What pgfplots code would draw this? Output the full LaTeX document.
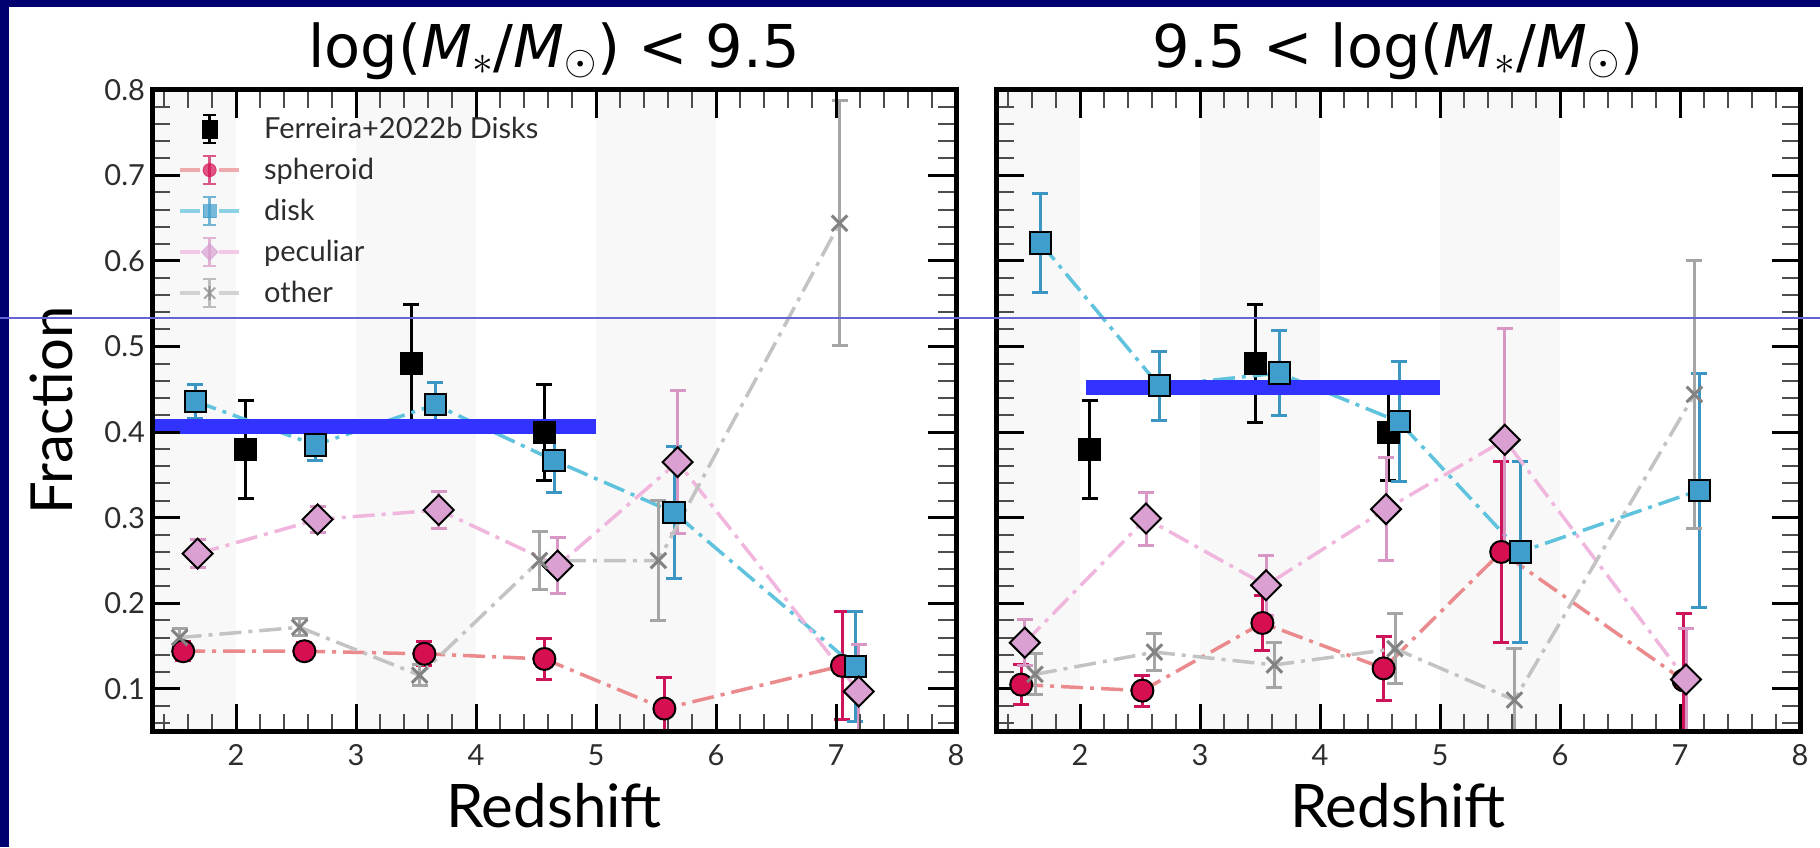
\documentclass[border=0pt]{standalone}
\usepackage{fontspec}
\setmainfont{Lato}
\newfontfamily\dejavu{DejaVu Sans}
\usepackage{pgfplots}
\usepackage{pgfplotstable}
\pgfplotsset{compat=1.18}

\definecolor{navyb}{RGB}{0,0,112}
\definecolor{spho}{RGB}{214,16,80}
\definecolor{sphe}{RGB}{205,20,90}
\definecolor{sphl}{RGB}{234,138,140}
\definecolor{diskf}{RGB}{64,158,204}
\definecolor{diske}{RGB}{60,150,195}
\definecolor{diskl}{RGB}{95,195,222}
\definecolor{pecf}{RGB}{218,160,210}
\definecolor{pece}{RGB}{215,150,195}
\definecolor{pecl}{RGB}{240,182,222}
\definecolor{othf}{RGB}{130,130,130}
\definecolor{othe}{RGB}{165,165,165}
\definecolor{othl}{RGB}{195,195,195}
\definecolor{hbar}{RGB}{51,51,255}
\definecolor{thinl}{RGB}{100,100,210}
\definecolor{band}{RGB}{248,248,248}
\definecolor{txt}{RGB}{45,45,45}

% ---------------- data ----------------
\pgfplotstableread{
x y e
2.08 0.380 0.057
3.46 0.480 0.069
4.57 0.400 0.056
}\ferr

\pgfplotstableread{
x y e
1.56 0.144 0.011
2.57 0.144 0.010
3.57 0.141 0.014
4.57 0.135 0.024
5.57 0.077 0.036
7.05 0.127 0.063
}\sphL
\pgfplotstableread{
x y e
1.66 0.436 0.020
2.66 0.385 0.018
3.66 0.432 0.026
4.65 0.367 0.038
5.65 0.306 0.077
7.16 0.126 0.064
}\diskL
\pgfplotstableread{
x y e
1.68 0.258 0.016
2.68 0.298 0.015
3.69 0.309 0.022
4.68 0.244 0.033
5.68 0.365 0.084
7.19 0.097 0.055
}\pecL
\pgfplotstableread{
x y e
1.53 0.160 0.010
2.53 0.172 0.010
3.53 0.116 0.012
4.53 0.250 0.034
5.52 0.250 0.070
7.03 0.644 0.143
}\othL

\pgfplotstableread{
x y e
1.51 0.105 0.023
2.52 0.098 0.018
3.52 0.177 0.032
4.53 0.124 0.037
5.51 0.260 0.106
7.03 0.110 0.078
}\sphH
\pgfplotstableread{
x y e
1.67 0.621 0.058
2.66 0.454 0.040
3.66 0.469 0.050
4.66 0.412 0.070
5.67 0.260 0.106
7.16 0.332 0.137
}\diskH
\pgfplotstableread{
x y e
1.54 0.154 0.027
2.55 0.299 0.031
3.55 0.221 0.035
4.55 0.310 0.060
5.54 0.391 0.130
7.05 0.111 0.060
}\pecH
\pgfplotstableread{
x y e
1.625 0.117 0.024
2.62 0.143 0.022
3.62 0.128 0.026
4.625 0.147 0.041
5.62 0.087 0.060
7.12 0.444 0.157
}\othH

% ---------------- legend helpers ----------------
\newcommand\LegLine[1]{\draw[#1, line width=1.75pt] (0pt,0pt) -- (10pt,0pt) (19.5pt,0pt) -- (29.5pt,0pt);}
\newcommand\LegErr[1]{\draw[#1, line width=1.2pt] (14.75pt,-7pt) -- (14.75pt,7pt) (11.5pt,7pt) -- (18pt,7pt) (11.5pt,-7pt) -- (18pt,-7pt);}
\newcommand\LegBox{\path[draw=none,fill=none] (0pt,0pt) -- (42pt,0pt);}
\newcommand\Mstar{\textit{M}\textsubscript{$\ast$}/\textit{M}\textsubscript{$\odot$}}

\pgfplotsset{
  panel/.style={
    width=402pt, height=321pt, scale only axis,
    xmin=1.3, xmax=8, ymin=0.05, ymax=0.8,
    axis on top, clip=true,
    axis line style={line width=2.5pt},
    xtick={2,3,4,5,6,7,8},
    ytick={0.1,0.2,0.3,0.4,0.5,0.6,0.7,0.8},
    minor xtick={1.4,1.6,...,8},
    minor ytick={0.06,0.08,...,0.8},
    major tick length=14pt, minor tick length=9pt,
    every major tick/.append style={line width=1.5pt, black},
    every minor tick/.append style={line width=1pt, black!70},
    tick label style={font=\fontsize{14.5}{16}\selectfont, text=txt},
    /pgf/number format/assume math mode=true,
    yticklabel style={/pgf/number format/.cd, fixed, fixed zerofill, precision=1},
    xticklabel style={yshift=-3pt},
    title style={font=\dejavu\fontsize{29.5}{33}\selectfont, text=black, yshift=-4.5pt},
    xlabel style={at={([yshift=-48pt]axis description cs:0.5,0)}, anchor=base, font=\fontsize{30}{33}\selectfont, text=black},
    ylabel style={at={([xshift=-40pt]axis description cs:0,0.5)}, anchor=base, font=\fontsize{29}{32}\selectfont, text=black},
  },
  serline/.style={line width=1.75pt, dash pattern=on 11pt off 3.5pt on 2pt off 3.5pt, forget plot},
  sermark/.style n args={5}{only marks, forget plot, mark=#1, mark size=#2,
    mark options={fill=#3, draw=black, line width=1pt, solid, #5},
    error bars/.cd, y dir=both, y explicit,
    error bar style={#4, line width=1.5pt, solid},
    error mark options={#4, rotate=90, line width=1.5pt, mark size=4pt, solid}},
}

\newcommand\band[2]{\addplot[fill=band, draw=none, forget plot] coordinates {(#1,0.05) (#2,0.05) (#2,0.8) (#1,0.8)} -- cycle;}

\begin{document}
\begin{tikzpicture}
\fill[white] (0,0) rectangle (910pt,423.5pt);
\fill[navyb] (0,0) rectangle (4.5pt,423.5pt);
\fill[navyb] (0,420pt) rectangle (910pt,423.5pt);
\path[use as bounding box] (0,0) rectangle (910pt,423.5pt);

% ================= left panel =================
\begin{axis}[panel, at={(76pt,57.65pt)}, anchor=south west,
  title={log(\Mstar)\hspace{0.3em}<\hspace{0.3em}9.5},
  xlabel={Redshift}, ylabel={Fraction},
  legend cell align=left,
  legend style={at={(axis description cs:0,1)}, anchor=north west, xshift=13pt, yshift=-11.9pt,
    draw=none, fill=none, inner sep=0pt, row sep=5.3pt,
    font=\fontsize{14.5}{16}\selectfont, nodes={inner sep=0pt, text=txt, xshift=18pt}},
]
\band{1.3}{2}
\band{3}{4}
\band{5}{6}

\addlegendimage{legend image code/.code={\LegBox \LegErr{black} \fill[black] (11pt,-4.5pt) rectangle (18.5pt,4.5pt);}}
\addlegendentry{Ferreira+2022b Disks}
\addlegendimage{legend image code/.code={\LegBox \begin{scope}[opacity=0.7]\LegLine{sphl}\LegErr{sphe}\fill[spho] (14.75pt,0pt) circle (3.3pt);\end{scope}}}
\addlegendentry{spheroid}
\addlegendimage{legend image code/.code={\LegBox \begin{scope}[opacity=0.7]\LegLine{diskl}\LegErr{diske}\fill[diskf] (11.5pt,-3.3pt) rectangle (18pt,3.3pt);\end{scope}}}
\addlegendentry{disk}
\addlegendimage{legend image code/.code={\LegBox \begin{scope}[opacity=0.7]\LegLine{pecl}\LegErr{pece}\fill[pecf] (14.75pt,4.2pt) -- (18.95pt,0pt) -- (14.75pt,-4.2pt) -- (10.55pt,0pt) -- cycle;\end{scope}}}
\addlegendentry{peculiar}
\addlegendimage{legend image code/.code={\LegBox \begin{scope}[opacity=0.7]\LegLine{othl}\LegErr{othe}\draw[othf, line width=1pt] (12pt,-2.75pt) -- (17.5pt,2.75pt) (12pt,2.75pt) -- (17.5pt,-2.75pt) (14.75pt,-3.5pt) -- (14.75pt,3.5pt);\end{scope}}}
\addlegendentry{other}

\addplot[sermark={square*}{5.3pt}{black}{black}{}] table[x=x,y=y,y error=e] {\ferr};

\addplot[sphl, serline] table[x=x,y=y] {\sphL};
\addplot[sermark={*}{5.5pt}{spho}{sphe}{}] table[x=x,y=y,y error=e] {\sphL};
\addplot[diskl, serline] table[x=x,y=y] {\diskL};
\addplot[sermark={square*}{5.3pt}{diskf}{diske}{}] table[x=x,y=y,y error=e] {\diskL};
\addplot[pecl, serline] table[x=x,y=y] {\pecL};
\addplot[sermark={square*}{5.3pt}{pecf}{pece}{rotate=45}] table[x=x,y=y,y error=e] {\pecL};
\addplot[othl, serline] table[x=x,y=y] {\othL};
\addplot[sermark={x}{5.5pt}{othf}{othe}{draw=othf, line width=1.5pt}] table[x=x,y=y,y error=e] {\othL};

\addplot[hbar, line width=7.5pt, forget plot] coordinates {(1.3,0.406) (5.0,0.406)};
\end{axis}

% ================= right panel =================
\begin{axis}[panel, at={(498pt,57.65pt)}, anchor=south west,
  yticklabels={},
  title={9.5\hspace{0.3em}<\hspace{0.3em}log(\Mstar)},
  xlabel={Redshift},
]
\band{1.3}{2}
\band{3}{4}
\band{5}{6}

\addplot[sermark={square*}{5.3pt}{black}{black}{}] table[x=x,y=y,y error=e] {\ferr};

\addplot[sphl, serline] table[x=x,y=y] {\sphH};
\addplot[sermark={*}{5.5pt}{spho}{sphe}{}] table[x=x,y=y,y error=e] {\sphH};
\addplot[diskl, serline] table[x=x,y=y] {\diskH};
\addplot[sermark={square*}{5.3pt}{diskf}{diske}{}] table[x=x,y=y,y error=e] {\diskH};
\addplot[pecl, serline] table[x=x,y=y] {\pecH};
\addplot[sermark={square*}{5.3pt}{pecf}{pece}{rotate=45}] table[x=x,y=y,y error=e] {\pecH};
\addplot[othl, serline] table[x=x,y=y] {\othH};
\addplot[sermark={x}{5.5pt}{othf}{othe}{draw=othf, line width=1.5pt}] table[x=x,y=y,y error=e] {\othH};

\addplot[hbar, line width=7.5pt, forget plot] coordinates {(2.05,0.452) (5.0,0.452)};
\end{axis}

\draw[thinl, line width=0.6pt] (0pt,264.5pt) -- (910pt,264.5pt);
\end{tikzpicture}
\end{document}
